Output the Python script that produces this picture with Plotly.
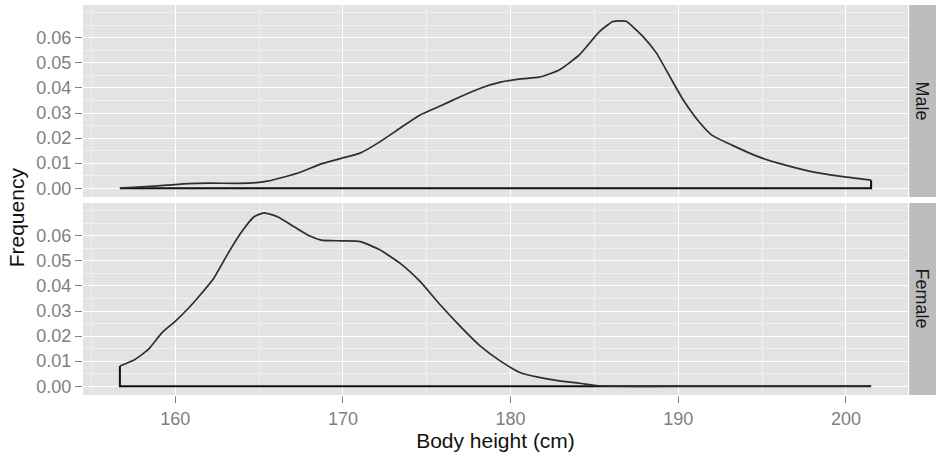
import plotly.graph_objects as go
from plotly.subplots import make_subplots

# ---- data ----
male_height = [156.7, 158.0, 159.5, 160.8, 162.0, 164.4, 165.5, 166.5, 167.5, 168.7, 169.9,
               171.05, 172.2, 173.4, 174.6, 175.8, 177.0, 178.2, 179.4, 180.6, 181.7,
               182.9, 184.1, 185.3, 186.1, 186.6, 186.9, 187.9, 188.7, 189.5, 190.3,
               191.3, 192.0, 193.2, 194.8, 196.4, 198.0, 199.6, 201.5]
male_density = [0.0, 0.0005, 0.0012, 0.0018, 0.002, 0.002, 0.0028, 0.0045, 0.0065, 0.0097, 0.0119,
                0.0141, 0.0185, 0.0239, 0.0292, 0.0328, 0.0365, 0.0399, 0.0423, 0.0436, 0.0443,
                0.0472, 0.0532, 0.0625, 0.0665, 0.0668, 0.0666, 0.0605, 0.0539, 0.0445, 0.0352,
                0.026, 0.0212, 0.0172, 0.0125, 0.0092, 0.0065, 0.0048, 0.0032]

female_height = [156.7, 157.6, 158.4, 159.2, 160.0, 160.8, 161.5, 162.3, 163.1, 163.9, 164.7,
                 165.3, 166.1, 167.1, 168.0, 168.7, 169.9, 171.05, 172.2, 173.4, 174.6,
                 175.8, 177.0, 178.2, 179.4, 180.6, 181.7, 182.9, 184.1, 185.1, 186.0,
                 190.0, 195.0, 201.5]
female_density = [0.0081, 0.0107, 0.0147, 0.0213, 0.0259, 0.0312, 0.0365, 0.0431, 0.0524, 0.061, 0.0676,
                  0.0692, 0.0676, 0.0636, 0.0600, 0.0583, 0.058, 0.0577, 0.0544, 0.0491, 0.0418,
                  0.0325, 0.0239, 0.016, 0.010, 0.0054, 0.0035, 0.0021, 0.0012, 0.0003, 0.0,
                  0.0, 0.0, 0.0]

panels = ["Male", "Female"]
x_ticks = [160, 170, 180, 190, 200]
y_ticks = [0.0, 0.01, 0.02, 0.03, 0.04, 0.05, 0.06]
y_tick_text = ["0.00", "0.01", "0.02", "0.03", "0.04", "0.05", "0.06"]

FONT = "Liberation Sans, Arial, sans-serif"

# ---- figure ----
fig = make_subplots(rows=2, cols=1, shared_xaxes=True, vertical_spacing=0.0154)

series = [(male_height, male_density), (female_height, female_density)]
for i, (xs, ys) in enumerate(series, start=1):
    # density outline (polygon edges: left side, baseline, right side)
    fig.add_trace(go.Scatter(
        x=[xs[0], xs[0], xs[-1], xs[-1]],
        y=[ys[0], 0, 0, ys[-1]],
        mode="lines", line=dict(color="#111111", width=2),
        showlegend=False, hoverinfo="skip"), row=i, col=1)
    fig.add_trace(go.Scatter(
        x=xs, y=ys, mode="lines",
        line=dict(color="#2e2e2e", width=1.7, shape="spline", smoothing=0.5),
        showlegend=False), row=i, col=1)

tick_font = dict(family=FONT, size=18, color="#7f7f7f")

for i in (1, 2):
    fig.update_xaxes(
        range=[154.5, 203.7], tickvals=x_ticks, showticklabels=(i == 2),
        ticks="outside" if i == 2 else "", ticklen=7, tickcolor="#7f7f7f", tickwidth=1.2,
        tickfont=tick_font, showgrid=True, gridcolor="white", gridwidth=1.4,
        minor=dict(dtick=5, tick0=155, showgrid=True, gridcolor="#f0f0f0", gridwidth=0.8),
        zeroline=False, showline=False, automargin=False, row=i, col=1)
    fig.update_yaxes(
        range=[-0.0035, 0.0731], tickvals=y_ticks, ticktext=y_tick_text,
        ticks="outside", ticklen=7, tickcolor="#7f7f7f", tickwidth=1.2,
        tickfont=tick_font, showgrid=True, gridcolor="white", gridwidth=1.4,
        minor=dict(dtick=0.005, tick0=0, showgrid=True, gridcolor="#f0f0f0", gridwidth=0.8),
        zeroline=False, showline=False, automargin=False, row=i, col=1)

fig.update_xaxes(title=dict(text="Body height (cm)", standoff=4,
                            font=dict(family=FONT, size=21, color="#111111")),
                 row=2, col=1)

# facet strips
strip_x0 = 1.0015
strip_x1 = 1.04
domains = [fig.layout.yaxis.domain, fig.layout.yaxis2.domain]
for name, dom in zip(panels, domains):
    fig.add_shape(type="rect", xref="paper", yref="paper",
                  x0=strip_x0, x1=strip_x1, y0=dom[0], y1=dom[1],
                  fillcolor="#bdbdbd", line=dict(width=0), layer="below")
    fig.add_annotation(xref="paper", yref="paper", x=1.0175, y=(dom[0] + dom[1]) / 2,
                       xanchor="center", yanchor="middle",
                       text=name, textangle=90, showarrow=False,
                       font=dict(family=FONT, size=18, color="#1a1a1a"))

fig.add_annotation(xref="paper", yref="paper", x=-0.081, y=0.456, text="Frequency",
                   textangle=-90, showarrow=False, xanchor="center", yanchor="middle",
                   font=dict(family=FONT, size=21, color="#111111"))

fig.update_layout(
    width=936, height=462,
    margin=dict(l=83, r=28, t=5, b=67, autoexpand=False),
    plot_bgcolor="#e3e3e3", paper_bgcolor="white",
    showlegend=False,
)

fig.write_html("out.html", config={"displayModeBar": False},
               post_script="document.body.style.margin='0';document.body.style.overflow='hidden';")
